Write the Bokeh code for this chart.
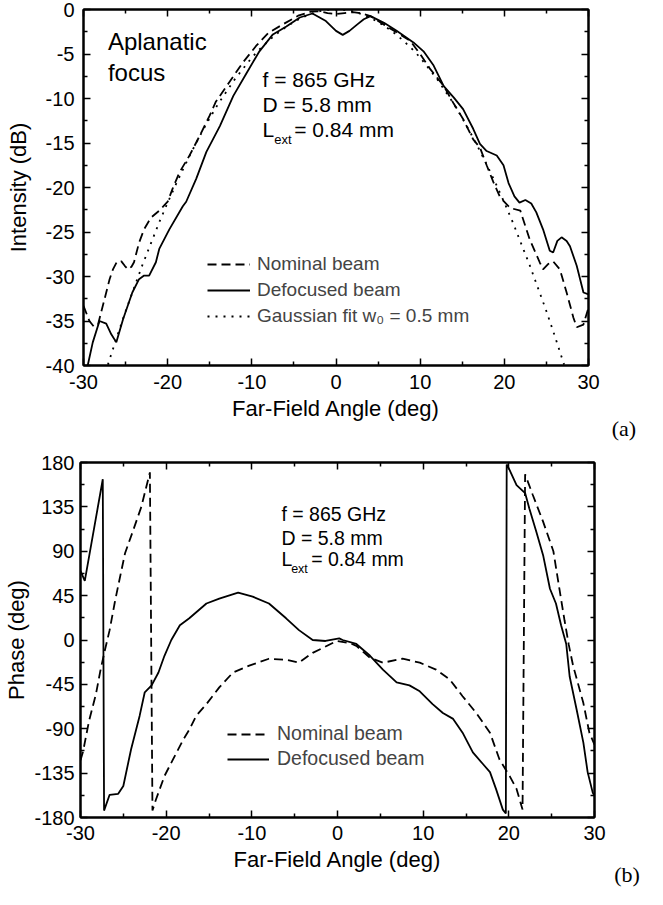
from bokeh.plotting import figure
from bokeh.models import Range1d, FixedTicker, LinearAxis, Label, Legend, LegendItem
from bokeh.layouts import column, row
from bokeh.embed import file_html
from bokeh.resources import INLINE

# ---------------- data: panel (a) intensity ----------------
nom_a_x = [-30, -29.3, -28.8, -28.3, -27.9, -27.3, -26.9, -26.5, -26.0, -25.5, -25.1, -24.7, -24.3, -24.0,
           -23.4, -22.8, -22.0, -21.0, -20.0, -19.4, -18.6, -17.4, -16.2, -15.0, -14.3, -12.7, -11.1, -9.5,
           -8.0, -6.0, -4.5, -3.0, -2.0, -1.0, 0.0, 1.0, 2.0, 2.9, 4.1, 5.7, 7.6, 8.8, 10.0, 11.2, 12.8,
           14.0, 15.1, 16.3, 17.1, 17.9, 18.7, 19.5, 20.7, 21.9, 23.0, 24.2, 24.6, 25.2, 25.8, 26.6, 27.4,
           28.2, 28.6, 29.4, 30.0]
nom_a_db = [-33.3, -35.0, -35.6, -35.5, -34.0, -31.8, -30.3, -29.2, -28.3, -28.3, -28.8, -29.2, -28.9, -28.4,
            -26.2, -24.7, -23.4, -22.6, -21.6, -20.1, -18.3, -16.4, -14.2, -11.9, -10.4, -8.2, -6.0, -4.1,
            -2.6, -1.5, -0.7, -0.25, -0.2, -0.4, -0.5, -0.4, -0.3, -0.4, -0.75, -1.7, -2.8, -3.5, -5.0, -6.7, -8.6,
            -10.6, -12.3, -14.6, -15.5, -17.5, -19.4, -21.1, -22.3, -22.6, -25.8, -28.4, -29.2, -28.6, -28.3, -29.2, -31.8,
            -34.6, -35.7, -35.4, -33.5]

def_a_x = [-29.5, -28.9, -28.1, -27.3, -26.7, -26.1, -25.3, -24.2, -23.4, -22.8, -22.2, -21.4, -21.0, -19.8,
           -18.2, -17.8, -16.6, -15.4, -13.8, -12.2, -10.6, -9.1, -7.5, -5.9, -4.3, -2.8, -1.2, 0.0, 0.8, 1.6,
           2.5, 3.3, 4.1, 5.7, 7.2, 9.2, 10.4, 11.6, 12.8, 14.0, 15.1, 16.3, 17.1, 17.9, 19.1, 19.9, 20.5,
           21.2, 21.8, 22.5, 23.2, 23.8, 24.6, 25.4, 25.8, 26.3, 26.8, 27.4, 27.8, 28.6, 29.4, 30.0]
def_a_db = [-40.0, -37.4, -35.0, -35.3, -36.5, -37.4, -34.8, -31.8, -30.3, -29.9, -29.9, -28.4, -26.9, -24.7,
            -22.1, -21.6, -19.0, -16.0, -13.1, -9.7, -7.1, -4.7, -2.8, -1.9, -0.9, -0.45, -1.3, -2.4, -2.85, -2.4,
            -1.7, -1.1, -0.75, -1.5, -2.4, -3.7, -4.7, -6.3, -8.6, -9.9, -11.2, -13.4, -15.1, -15.9, -16.4, -17.5, -19.5,
            -21.0, -21.7, -21.4, -21.8, -22.8, -24.7, -27.1, -27.3, -26.0, -25.6, -26.0, -26.6, -28.8, -31.8, -32.0]

gau_x = [-27.1, -26, -25, -24, -23, -22, -21, -20, -19, -18, -17, -16, -15, -14, -13, -12, -11, -10, -9, -8,
         -7, -6, -5, -4, -3, -2, -1, 0, 1, 2, 3, 4, 5, 6, 7, 8, 9, 10, 11, 12, 13, 14, 15, 16, 17, 18, 19,
         20, 21, 22, 23, 24, 25, 26, 27.1]
gau_db = [-39.9, -36.7, -33.9, -31.3, -28.7, -26.3, -23.9, -21.7, -19.6, -17.6, -15.7, -13.9, -12.2, -10.6,
          -9.2, -7.8, -6.6, -5.4, -4.4, -3.5, -2.7, -2.0, -1.4, -0.9, -0.5, -0.2, -0.05, 0.0, -0.05, -0.2, -0.5,
          -0.9, -1.4, -2.0, -2.7, -3.5, -4.4, -5.4, -6.6, -7.8, -9.2, -10.6, -12.2, -13.9, -15.7, -17.6, -19.6,
          -21.7, -23.9, -26.3, -28.7, -31.3, -33.9, -36.7, -39.9]

# ---------------- data: panel (b) phase ----------------
nom_b_x = [-30, -29.7, -29.0, -28.2, -27.7, -27.2, -26.6, -26.0, -25.6, -24.8, -23.9, -22.9, -21.9, -21.6,
           -21.2, -20.2, -19.2, -18.0, -17.3, -16.5, -15.3, -13.8, -12.2, -10.3, -8.0, -6.0, -4.5, -2.9, -1.7,
           -0.1, 1.4, 2.2, 3.8, 5.3, 7.6, 9.6, 11.5, 13.1, 14.6, 16.2, 17.8, 18.9, 20.1, 20.9, 21.6, 21.9,
           22.8, 24.0, 25.2, 25.9, 26.5, 27.0, 27.5, 28.7, 29.4, 30.0]
nom_b_ph = [-122, -113, -82, -55, -32, -12, 10, 38, 55, 88, 110, 135, 170, -173,
            -162, -138, -121, -101, -91, -77, -65, -48, -33, -26, -19, -20, -23, -13, -8,
            -1, -3, -6, -18, -23, -19, -23, -30, -40, -57, -74, -94, -121, -138, -151, -172, 168,
            147, 120, 90, 52, 20, -5, -26, -64, -94, -106]

def_b_x = [-30, -29.5, -27.4, -27.25, -26.6, -25.6, -25.0, -24.1, -23.1, -22.5, -21.7, -20.9, -20.2, -19.4,
           -18.4, -17.3, -15.3, -13.8, -11.6, -9.9, -8.0, -6.0, -4.5, -2.9, -1.4, 0.2, 0.6, 2.2, 3.8, 5.3,
           6.9, 8.4, 9.6, 11.1, 12.3, 13.5, 14.6, 15.8, 17.0, 17.8, 18.5, 19.3, 19.65, 19.75, 20.0, 20.9,
           21.9, 22.4, 23.2, 24.0, 24.8, 25.5, 26.1, 26.7, 27.1, 27.9, 28.7, 29.2, 29.8, 30.0]
def_b_ph = [70, 60, 163, -173, -157, -156, -148, -111, -77, -53, -46, -33, -16, 0,
            15, 22, 37, 42, 48, 44, 37, 22, 10, 0, -1, 1.6, 0, -4, -16, -30,
            -43, -46, -52, -65, -74, -80, -94, -114, -126, -134, -151, -172, -176, 178, 174, 157,
            149, 133, 110, 86, 52, 37, 15, -4, -37, -70, -104, -134, -155, -158]

x_ticks = [-30, -20, -10, 0, 10, 20, 30]
x_minor = [-25, -15, -5, 5, 15, 25]
a_ticks = [-40, -35, -30, -25, -20, -15, -10, -5, 0]
a_minor = [-37.5, -32.5, -27.5, -22.5, -17.5, -12.5, -7.5, -2.5]
b_ticks = [-180, -135, -90, -45, 0, 45, 90, 135, 180]
b_minor = [-157.5, -112.5, -67.5, -22.5, 22.5, 67.5, 112.5, 157.5]

FONT = "Liberation Sans"
LW = 1.8


def style_axis(ax, ticks, minor, labels=True, standoff=9):
    ax.ticker = FixedTicker(ticks=ticks, minor_ticks=minor)
    ax.major_tick_in = 7
    ax.major_tick_out = 0
    ax.minor_tick_in = 4
    ax.minor_tick_out = 0
    ax.axis_line_width = 2
    ax.major_tick_line_width = 1.5
    ax.minor_tick_line_width = 1.5
    ax.axis_line_color = "black"
    ax.major_tick_line_color = "black"
    ax.minor_tick_line_color = "black"
    ax.major_label_text_font = FONT
    if labels:
        ax.major_label_text_color = "black"
        ax.major_label_text_font_size = "20px"
        ax.major_label_standoff = standoff
        ax.major_label_overrides = {t: str(t) for t in ticks}
    else:
        ax.major_label_text_color = None
        ax.major_label_text_font_size = "1px"
        ax.major_label_standoff = 0
    ax.axis_label_text_font = FONT
    ax.axis_label_text_font_size = "22px"
    ax.axis_label_text_font_style = "normal"
    ax.axis_label_text_color = "black"


def make_fig(fw, fh, bl, br, bt, bb, yr, yt, ym, ylabel, xstand, ystand, ylab_stand):
    p = figure(frame_width=fw, frame_height=fh, min_border_left=bl, min_border_right=br,
               min_border_top=bt, min_border_bottom=bb, x_range=Range1d(-30, 30), y_range=yr,
               output_backend="svg", toolbar_location=None, title=None)
    p.xgrid.grid_line_color = None
    p.ygrid.grid_line_color = None
    p.outline_line_color = "black"
    p.outline_line_width = 2
    p.background_fill_color = "white"
    p.border_fill_color = "white"
    style_axis(p.xaxis[0], x_ticks, x_minor, True, xstand)
    style_axis(p.yaxis[0], yt, ym, True, ystand)
    p.xaxis[0].axis_label = "Far-Field Angle (deg)"
    p.xaxis[0].axis_label_standoff = 4
    p.yaxis[0].axis_label = ylabel
    p.yaxis[0].axis_label_standoff = ylab_stand
    top = LinearAxis()
    style_axis(top, x_ticks, x_minor, False)
    right = LinearAxis()
    style_axis(right, yt, ym, False)
    p.add_layout(top, "above")
    p.add_layout(right, "right")
    return p


def tag_fig(w, h, bt, bb, text, standoff):
    # narrow blank canvas to the right of a panel; its bottom axis label carries the "(a)"/"(b)" tag
    t = figure(width=w, height=h, min_border_left=0, min_border_right=0, min_border_top=bt,
               min_border_bottom=bb, x_range=Range1d(0, 1), y_range=Range1d(0, 1),
               output_backend="svg", toolbar_location=None, title=None)
    t.yaxis.visible = False
    ax = t.xaxis[0]
    ax.axis_line_color = None
    ax.major_tick_line_color = None
    ax.minor_tick_line_color = None
    ax.major_tick_out = 0
    ax.major_tick_in = 0
    ax.minor_tick_out = 0
    ax.minor_tick_in = 0
    ax.major_label_text_color = None
    ax.major_label_text_font_size = "1px"
    ax.major_label_standoff = 0
    ax.axis_label = text
    ax.axis_label_text_font = "Liberation Serif"
    ax.axis_label_text_font_size = "22px"
    ax.axis_label_text_font_style = "normal"
    ax.axis_label_text_color = "black"
    ax.axis_label_standoff = standoff
    t.xgrid.grid_line_color = None
    t.ygrid.grid_line_color = None
    t.outline_line_color = None
    t.background_fill_color = "white"
    t.border_fill_color = "white"
    return t


# ---------------- panel (a) ----------------
pa = make_fig(505, 356, 83, 12, 9, 78, Range1d(-40, 0), a_ticks, a_minor, "Intensity (dB)", 9, 9, 12)
r1 = pa.line(nom_a_x, nom_a_db, line_color="black", line_width=LW, line_dash="9 5")
r2 = pa.line(def_a_x, def_a_db, line_color="black", line_width=LW)
r3 = pa.line(gau_x, gau_db, line_color="black", line_width=LW, line_dash="2 6")

leg_a = Legend(items=[LegendItem(label="Nominal beam", renderers=[r1]),
                      LegendItem(label="Defocused beam", renderers=[r2]),
                      LegendItem(label="Gaussian fit w\u2080 = 0.5 mm", renderers=[r3])],
               location=(124, 38), orientation="vertical", padding=0, margin=0, spacing=4,
               glyph_width=43, glyph_height=20, label_height=20, label_standoff=7,
               label_text_font=FONT, label_text_font_size="19px", label_text_baseline="middle",
               border_line_alpha=0, background_fill_alpha=0)
pa.add_layout(leg_a)

for txt, yy in [("Aplanatic", -3.63), ("focus", -7.08)]:
    pa.add_layout(Label(x=-27.1, y=yy, text=txt, text_font=FONT, text_font_size="24px",
                        text_baseline="middle", text_align="left", text_color="black"))
for txt, yy in [("f = 865 GHz", -7.9), ("D = 5.8 mm", -10.71), ("L", -13.45)]:
    pa.add_layout(Label(x=-8.73, y=yy, text=txt, text_font=FONT, text_font_size="21px",
                        text_baseline="middle", text_align="left", text_color="black"))
pa.add_layout(Label(x=-7.34, y=-14.57, text="ext", text_font=FONT, text_font_size="13px",
                    text_baseline="middle", text_align="left", text_color="black"))
pa.add_layout(Label(x=-4.97, y=-13.45, text="= 0.84 mm", text_font=FONT, text_font_size="21px",
                    text_baseline="middle", text_align="left", text_color="black"))

ta = tag_fig(47, 443, 9, 78, "(a)", 50)

# ---------------- panel (b) ----------------
pb = make_fig(514, 355, 80, 12, 19, 72, Range1d(-180, 180), b_ticks, b_minor, "Phase (deg)", 8, 6, 2)
s1 = pb.line(nom_b_x, nom_b_ph, line_color="black", line_width=LW, line_dash="9 5")
s2 = pb.line(def_b_x, def_b_ph, line_color="black", line_width=LW)

leg_b = Legend(items=[LegendItem(label="Nominal beam", renderers=[s1]),
                      LegendItem(label="Defocused beam", renderers=[s2])],
               location=(147, 47), orientation="vertical", padding=0, margin=0, spacing=2,
               glyph_width=42, glyph_height=20, label_height=20, label_standoff=8,
               label_text_font=FONT, label_text_font_size="19.5px", label_text_baseline="middle",
               border_line_alpha=0, background_fill_alpha=0)
pb.add_layout(leg_b)

for txt, yy in [("f = 865 GHz", 127.6), ("D = 5.8 mm", 103.9), ("L", 81.9)]:
    pb.add_layout(Label(x=-6.54, y=yy, text=txt, text_font=FONT, text_font_size="19.5px",
                        text_baseline="middle", text_align="left", text_color="black"))
pb.add_layout(Label(x=-5.41, y=71.8, text="ext", text_font=FONT, text_font_size="12.5px",
                    text_baseline="middle", text_align="left", text_color="black"))
pb.add_layout(Label(x=-3.07, y=81.9, text="= 0.84 mm", text_font=FONT, text_font_size="19.5px",
                    text_baseline="middle", text_align="left", text_color="black"))

tb = tag_fig(41, 446, 19, 72, "(b)", 46)

layout = column(row(pa, ta, spacing=0), row(pb, tb, spacing=0), spacing=0)
open("out.html", "w").write(file_html(layout, INLINE))
